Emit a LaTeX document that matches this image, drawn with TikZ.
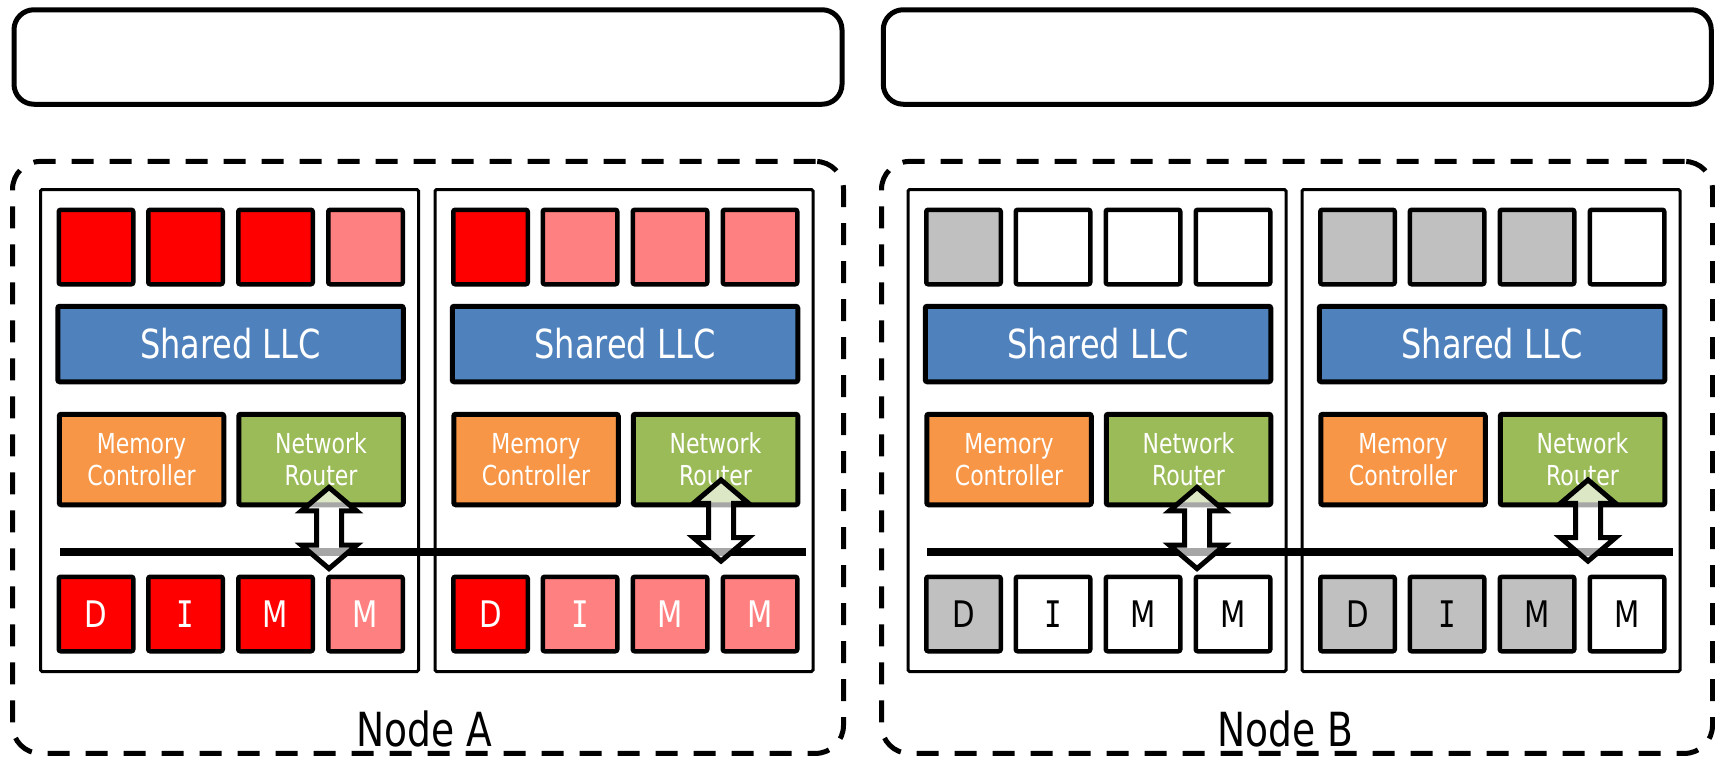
\documentclass[tikz,border=0pt]{standalone}
\usepackage{fontspec}
\setmainfont{DejaVu Sans}[FakeStretch=0.8]
\newfontfamily\serifI{DejaVu Sans Mono}[FakeStretch=0.8]

\definecolor{busyred}{HTML}{FF0000}
\definecolor{halfred}{HTML}{FF8080}
\definecolor{busygray}{HTML}{C0C0C0}
\definecolor{llcblue}{HTML}{4F81BD}
\definecolor{mcorange}{HTML}{F79646}
\definecolor{nrgreen}{HTML}{9BBB59}

% one processor: #1 name, #2 left edge, #3-#6 fills of cores/DIMMs,
% #7 letter colour on the DIMMs
\newcommand\drawprocessor[7]{%
  \node[procbox] (#1) at (#2+189, 430.5) {};
  \node[unit, fill=#3] (#1-core1) at (#2+55.5, 247) {};
  \node[unit, fill=#4] (#1-core2) at (#2+145, 247) {};
  \node[unit, fill=#5] (#1-core3) at (#2+235, 247) {};
  \node[unit, fill=#6] (#1-core4) at (#2+325, 247) {};
  \node[llc] (#1-llc) at (#2+190, 344) {Shared LLC};
  \node[ctrl, fill=mcorange] (#1-mc) at (#2+101, 459.5) {Memory\\Controller};
  \node[ctrl, fill=nrgreen] (#1-nr) at (#2+280.5, 459.5) {Network\\Router};
  \node[unit, fill=#3, text=#7] (#1-dimm1) at (#2+55.5, 614) {D};
  \node[unit, fill=#4, text=#7] (#1-dimm2) at (#2+145, 614) {\serifI I};
  \node[unit, fill=#5, text=#7] (#1-dimm3) at (#2+235, 614) {M};
  \node[unit, fill=#6, text=#7] (#1-dimm4) at (#2+325, 614) {M};
}

\begin{document}
\begin{tikzpicture}[x=1pt, y=-1pt,
  banner/.style={draw, line width=5pt, rounded corners=20pt,
    minimum width=828pt, minimum height=94.5pt, inner sep=0pt},
  nodebox/.style={draw, line width=5pt, dash pattern=on 22pt off 16pt,
    rounded corners=28pt, minimum width=831pt, minimum height=592pt, inner sep=0pt},
  procbox/.style={draw, line width=3pt, rounded corners=1.5pt,
    minimum width=378pt, minimum height=482pt, inner sep=0pt},
  unit/.style={draw, line width=4.5pt, rounded corners=2pt, inner sep=0pt,
    minimum width=74.5pt, minimum height=74.5pt,
    font=\fontsize{36.6}{42}\selectfont},
  llc/.style={draw, line width=5pt, rounded corners=2pt, fill=llcblue,
    text=white, minimum width=345.5pt, minimum height=75.5pt, inner sep=0pt,
    font=\fontsize{40}{48}\selectfont},
  ctrl/.style={draw, line width=5pt, rounded corners=2pt, text=white,
    minimum width=164.5pt, minimum height=90.5pt, inner sep=0pt, align=center,
    font=\fontsize{27.5}{32}\selectfont},
  bus/.style={line width=7.5pt},
  nodename/.style={font=\fontsize{47}{56}\selectfont, inner sep=0pt},
  busarrow/.pic={
    \draw[line width=5pt, miter limit=10, fill=white, fill opacity=0.65]
      (0,-40.6) -- (27.5,-17.2) -- (12.5,-17.2) -- (12.5,17.2) -- (27.5,17.2)
      -- (0,40.6) -- (-27.5,17.2) -- (-12.5,17.2) -- (-12.5,-17.2)
      -- (-27.5,-17.2) -- cycle;
  }]
\useasboundingbox (0,0) rectangle (1715,756);

% empty banners on top
\node[banner] (bannerA) at (428, 57) {};
\node[banner] (bannerB) at (1297.25, 57) {};

% the two nodes
\node[nodebox] (nodeA) at (428, 457.4) {};
\node[nodebox] (nodeB) at (1297, 457.4) {};
\node[nodename] (nameA) at (424, 729) {Node A};
\node[nodename] (nameB) at (1285, 729) {Node B};

% processors
\drawprocessor{A1}{40.5}{busyred}{busyred}{busyred}{halfred}{white}
\drawprocessor{A2}{435}{busyred}{halfred}{halfred}{halfred}{white}
\drawprocessor{B1}{908}{busygray}{white}{white}{white}{black}
\drawprocessor{B2}{1302}{busygray}{busygray}{busygray}{white}{black}

% memory buses
\coordinate (busA-w) at (60, 552);
\coordinate (busA-e) at (806, 552);
\coordinate (busB-w) at (927, 552);
\coordinate (busB-e) at (1673, 552);
\draw[bus] (busA-w) -- (busA-e);
\draw[bus] (busB-w) -- (busB-e);

% router <-> bus links
\pic (linkA1) at (329, 528) {busarrow};
\pic (linkA2) at (721, 520.5) {busarrow};
\pic (linkB1) at (1197, 528) {busarrow};
\pic (linkB2) at (1588, 520.5) {busarrow};
\end{tikzpicture}
\end{document}
